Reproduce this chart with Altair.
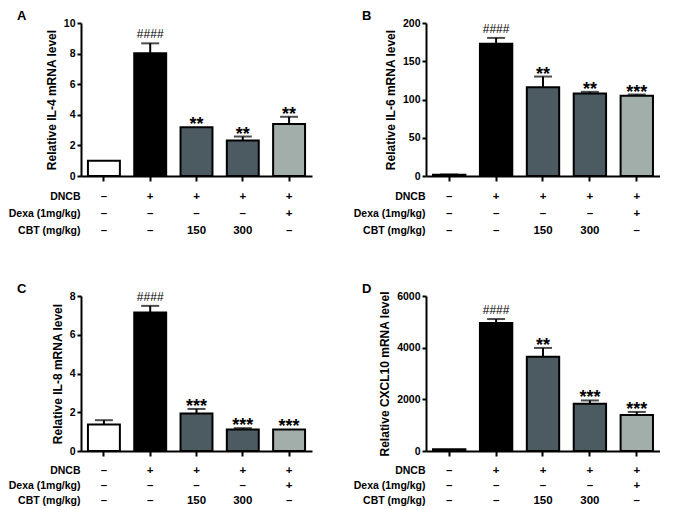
import altair as alt
import pandas as pd

groups = ["G1", "G2", "G3", "G4", "G5"]
fills = ["#ffffff", "#000000", "#4b5b61", "#4b5b61", "#a1aeaa"]
row_labels = ["DNCB", "Dexa (1mg/kg)", "CBT (mg/kg)"]
dncb = ["–", "+", "+", "+", "+"]
dexa = ["–", "–", "–", "–", "+"]
cbt = ["–", "–", "150", "300", "–"]

a_mean = [0.99, 8.02, 3.18, 2.32, 3.40]
a_err = [0.0, 0.65, 0.0, 0.26, 0.47]
a_sig = ["", "####", "**", "**", "**"]

b_mean = [1.5, 173.0, 116.0, 108.0, 105.0]
b_err = [0.5, 7.5, 14.0, 2.0, 1.5]
b_sig = ["", "####", "**", "**", "***"]

c_mean = [1.37, 7.15, 1.93, 1.11, 1.11]
c_err = [0.22, 0.34, 0.24, 0.07, 0.0]
c_sig = ["", "####", "***", "***", "***"]

d_mean = [64.0, 4956.0, 3647.0, 1830.0, 1398.0]
d_err = [0.0, 152.0, 343.0, 127.0, 114.0]
d_sig = ["", "####", "**", "***", "***"]

FONT = "Liberation Sans"


def panel(letter, ytitle, mean, err, sig, ymax, ystep, w, h, tstep):
    df = pd.DataFrame({
        "g": groups,
        "mean": mean,
        "top": [m + e for m, e in zip(mean, err)],
        "err": err,
        "fill": fills,
        "sig": sig,
    })
    xs = alt.Scale(type="band", domain=groups, paddingInner=0.31, paddingOuter=0.15)
    x = alt.X("g:N", scale=xs, axis=alt.Axis(
        title=None, labels=False, ticks=True, tickSize=5, tickWidth=2,
        tickColor="black", domainColor="black", domainWidth=2, grid=False))
    ys = alt.Scale(domain=[0, ymax], nice=False, zero=True)

    def yax():
        return alt.Axis(
            title=ytitle, values=list(range(0, ymax + 1, ystep)), grid=False,
            format="d", labelOverlap=False,
            labelFontSize=10.5, labelFontWeight="bold", labelColor="black",
            labelPadding=2, tickSize=4, tickWidth=2, tickColor="black",
            domainColor="black", domainWidth=2, titleFontSize=12,
            titleFontWeight="bold", titleColor="black", titlePadding=5)

    base = alt.Chart(df)
    bars = base.mark_bar(stroke="black", strokeWidth=2).encode(
        x=x, y=alt.Y("mean:Q", scale=ys, axis=yax()),
        fill=alt.Fill("fill:N", scale=None))
    rule = base.transform_filter("datum.err > 0").mark_rule(
        color="black", strokeWidth=2).encode(
        x=x, y=alt.Y("mean:Q", scale=ys, axis=yax()), y2="top:Q")
    cap = base.transform_filter("datum.err > 0").mark_tick(
        color="black", thickness=2, size=18).encode(
        x=x, y=alt.Y("top:Q", scale=ys, axis=yax()))
    hashes = base.transform_filter("datum.sig == '####'").mark_text(
        baseline="alphabetic", dy=-5, fontSize=12, fontWeight="normal",
        color="black").encode(
        x=x, y=alt.Y("top:Q", scale=ys, axis=yax()), text="sig:N")
    stars = base.transform_filter("indexof(datum.sig, '*') >= 0").mark_text(
        baseline="alphabetic", dy=3, fontSize=18, fontWeight="bold",
        color="black").encode(
        x=x, y=alt.Y("top:Q", scale=ys, axis=yax()), text="sig:N")
    layer = alt.layer(bars, rule, cap, hashes, stars).properties(
        width=w, height=h,
        title=alt.TitleParams(letter, anchor="start", frame="group", dx=-64,
                              fontSize=13, fontWeight="bold", color="black",
                              offset=-5))

    rows = []
    for i, g in enumerate(groups):
        rows.append({"g": g, "row": row_labels[0], "val": dncb[i]})
        rows.append({"g": g, "row": row_labels[1], "val": dexa[i]})
        rows.append({"g": g, "row": row_labels[2], "val": cbt[i]})
    tdf = pd.DataFrame(rows)
    table = alt.Chart(tdf).mark_text(
        fontSize=11.5, fontWeight="bold", color="black").encode(
        x=alt.X("g:N", scale=xs, axis=None),
        y=alt.Y("row:N", scale=alt.Scale(type="band", domain=row_labels,
                                         paddingInner=0, paddingOuter=0),
                axis=alt.Axis(title=None, domain=False, ticks=False,
                              labelPadding=1, labelFontSize=10.5,
                              labelFontWeight="bold", labelColor="black")),
        text="val:N").properties(width=w, height=3 * tstep)
    return alt.vconcat(layer, table, spacing=6)


pA = panel("A", "Relative IL-4 mRNA level", a_mean, a_err, a_sig, 10, 2, 231, 153, 17)
pB = panel("B", "Relative IL-6 mRNA level", b_mean, b_err, b_sig, 200, 50, 234, 153, 17)
pC = panel("C", "Relative IL-8 mRNA level", c_mean, c_err, c_sig, 8, 2, 231, 155, 15)
pD = panel("D", "Relative CXCL10 mRNA level", d_mean, d_err, d_sig, 6000, 2000, 234, 155, 15)

chart = alt.concat(pA, pB, pC, pD, columns=2,
                   spacing={"row": 43, "column": 41}).configure(
    font=FONT, padding={"left": 0, "top": 2, "right": 0, "bottom": 0}
).configure_view(stroke=None)

chart.save("out.html", embed_options={"renderer": "svg", "actions": False})
